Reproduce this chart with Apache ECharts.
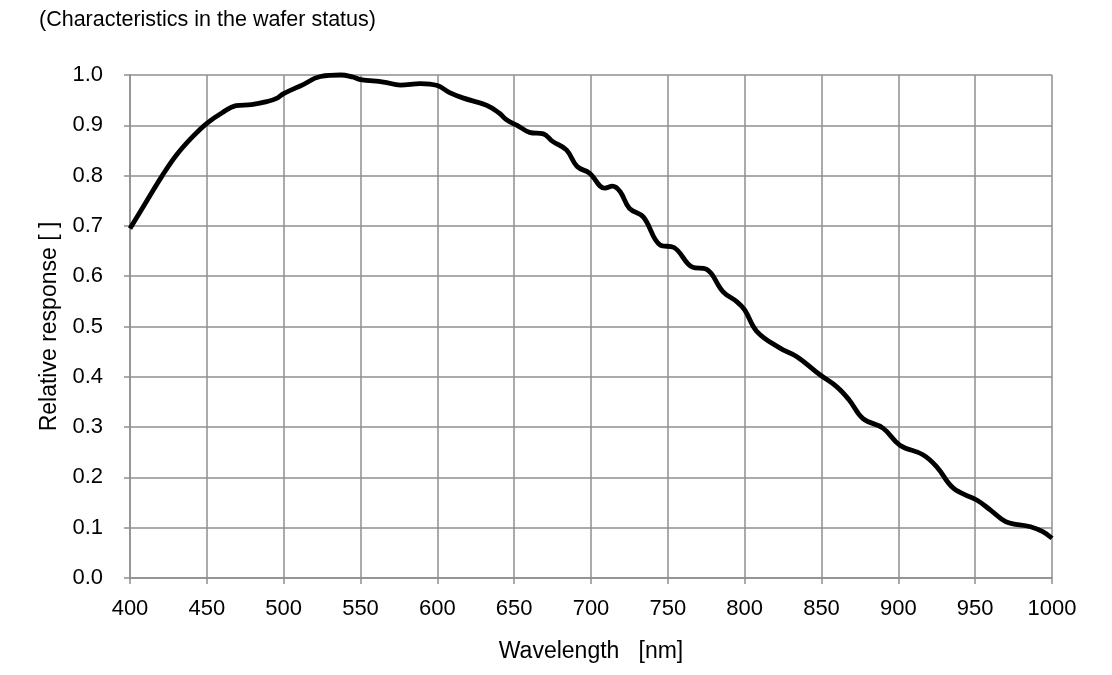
<!DOCTYPE html>
<html>
<head>
<meta charset="utf-8">
<script src="https://cdn.jsdelivr.net/npm/echarts@6/dist/echarts.min.js"></script>
<style>html,body{margin:0;padding:0;background:#fff}#c{width:1112px;height:675px}</style>
</head>
<body>
<div id="c"></div>
<script>
const wavelengths = [400,410,421,430,440,450,460,469,479,489,495,500,512,524,537,545,550,565,576,589,600,608,617,632,640,645,653,660,669,675,684,691,699,709,714,719,725,734,745,754,766,775,786,795,800,808,823,834,849,860,868,877,890,901,916,925,936,951,960,970,986,994,1000];
const response = [0.695,0.745,0.800,0.840,0.875,0.904,0.925,0.939,0.941,0.947,0.953,0.963,0.980,0.997,1.000,0.996,0.991,0.986,0.980,0.983,0.979,0.965,0.954,0.940,0.925,0.911,0.898,0.886,0.883,0.868,0.851,0.818,0.805,0.775,0.779,0.768,0.735,0.718,0.662,0.657,0.618,0.614,0.569,0.549,0.533,0.490,0.457,0.440,0.404,0.380,0.354,0.317,0.298,0.264,0.245,0.221,0.178,0.155,0.135,0.112,0.102,0.092,0.079];
const titleText = '(Characteristics in the wafer status)';
const xName = 'Wavelength   [nm]';
const yName = 'Relative response [ ]';

const font = 'Liberation Sans, Arial, sans-serif';
const gridColor = '#8f8f8f';
const chart = echarts.init(document.getElementById('c'), null, {renderer: 'canvas'});
chart.setOption({
  animation: false,
  title: {text: titleText, left: 34, top: 4, textStyle: {fontFamily: font, fontSize: 21.5, fontWeight: 'normal', color: '#000'}},
  grid: {left: 130, right: 60, top: 75, bottom: 97, containLabel: false},
  xAxis: {
    type: 'value', min: 400, max: 1000, interval: 50,
    name: xName, nameLocation: 'middle', nameGap: 62,
    nameTextStyle: {fontFamily: font, fontSize: 23, color: '#000'},
    axisLine: {show: true, lineStyle: {color: gridColor, width: 1.5}},
    axisTick: {show: true, length: 6, lineStyle: {color: gridColor, width: 1.5}},
    axisLabel: {fontFamily: font, fontSize: 22, color: '#000', margin: 20, formatter: v => String(v)},
    splitLine: {show: true, lineStyle: {color: gridColor, width: 1.5}}
  },
  yAxis: {
    type: 'value', min: 0, max: 1, interval: 0.1,
    name: yName, nameLocation: 'middle', nameGap: 66, nameRotate: 90,
    nameTextStyle: {fontFamily: font, fontSize: 23, color: '#000'},
    axisLine: {show: true, lineStyle: {color: gridColor, width: 1.5}},
    axisTick: {show: true, length: 6, lineStyle: {color: gridColor, width: 1.5}},
    axisLabel: {fontFamily: font, fontSize: 22, color: '#000', margin: 27, formatter: v => v.toFixed(1)},
    splitLine: {show: true, lineStyle: {color: gridColor, width: 1.5}}
  },
  series: [{
    type: 'line',
    data: wavelengths.map((w, i) => [w, response[i]]),
    smooth: 0.4,
    showSymbol: false,
    lineStyle: {color: '#000', width: 4.8},
    clip: false
  }]
});
</script>
</body>
</html>
